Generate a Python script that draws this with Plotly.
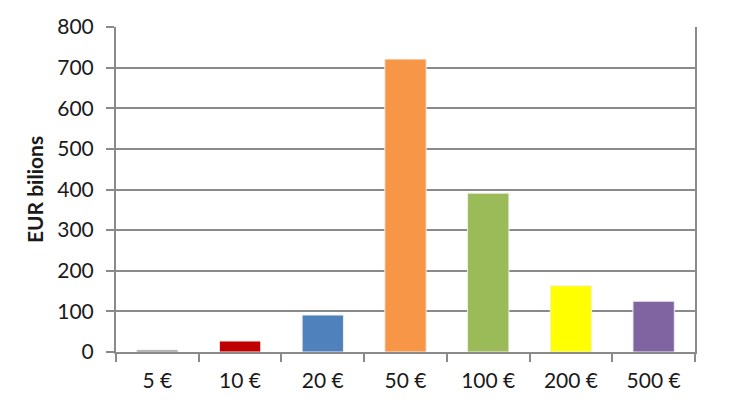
import plotly.graph_objects as go

categories = ["5 €", "10 €", "20 €", "50 €", "100 €", "200 €", "500 €"]
values = [5, 27, 91, 721, 391, 163, 125]
colors = ["#808080", "#C00000", "#4F81BD", "#F79646", "#9BBB59", "#FFFF00", "#8064A2"]
y_ticks = [0, 100, 200, 300, 400, 500, 600, 700, 800]

GRID = "#8a8a8a"

fig = go.Figure(go.Bar(
    x=categories, y=values,
    marker=dict(color=colors, line=dict(color="#eeeeee", width=1)),
))

fig.update_layout(
    width=730, height=410,
    margin=dict(l=108, r=43, t=19, b=66, autoexpand=False),
    paper_bgcolor="white", plot_bgcolor="white",
    bargap=0.50,
    showlegend=False,
    font=dict(family="Lato", size=21, color="#1a1a1a"),
)

fig.update_yaxes(
    range=[0, 800], tickvals=y_ticks, automargin=False,
    showgrid=True, gridcolor=GRID, gridwidth=1.5,
    showline=True, linecolor=GRID, linewidth=2, mirror=True,
    ticks="outside", ticklen=8, tickcolor=GRID, tickwidth=2,
    ticklabelstandoff=8,
    zeroline=False,
    tickfont=dict(size=21),
    title=dict(text="<b>EUR bilions</b>", font=dict(size=21), standoff=8),
)
fig.update_xaxes(
    automargin=False,
    showline=True, linecolor=GRID, linewidth=2,
    ticks="outside", tickson="boundaries", ticklen=8, tickcolor=GRID, tickwidth=2,
    ticklabelstandoff=9,
    tickfont=dict(size=21),
)

fig.write_html("out.html")
